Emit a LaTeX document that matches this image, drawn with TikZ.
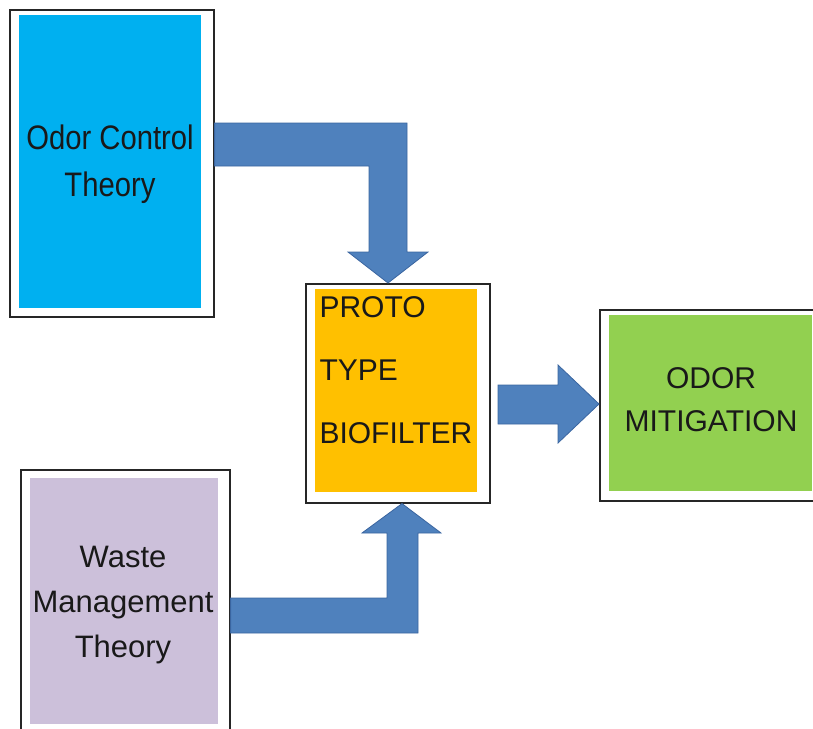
\documentclass[tikz,border=0pt]{standalone}
\usepackage{fontspec}
\setmainfont{Liberation Sans}
\newfontfamily\narrowfont[FakeStretch=0.86]{Liberation Sans}
\definecolor{cblue}{HTML}{00B0F0}
\definecolor{corange}{HTML}{FFC000}
\definecolor{cgreen}{HTML}{92D050}
\definecolor{clilac}{HTML}{CCC0DA}
\definecolor{carrow}{HTML}{4F81BD}
\definecolor{carrowdark}{HTML}{3A65A0}
\tikzset{
  frame/.style={draw=black!85, line width=1.6pt, fill=white, inner sep=0pt, anchor=north west},
  panel/.style={inner sep=0pt, anchor=north west},
  label/.style={align=center, font=\fontsize{30}{45}\selectfont, text=black!90},
  blockarrow/.style={fill=carrow, draw=carrowdark, line width=0.8pt, line join=miter},
}
\begin{document}
\begin{tikzpicture}[x=1pt,y=-1pt]
\useasboundingbox (0,0) rectangle (813,728);
% Odor Control Theory
\node[frame, minimum width=204pt, minimum height=307pt] (ocf) at (9,9) {};
\node[panel, fill=cblue, minimum width=182pt, minimum height=293pt] (ocp) at (19,15) {};
\node[label, font=\narrowfont\fontsize{34}{47}\selectfont] (oct) at (110,164) {Odor Control\\Theory};
% Prototype biofilter
\node[frame, minimum width=184pt, minimum height=219pt] (pbf) at (305,283) {};
\node[panel, fill=corange, minimum width=162pt, minimum height=203pt] (pbp) at (315,289) {};
\node[label, anchor=west, align=left, font=\fontsize{30}{63}\selectfont] (pbt) at (316,370) {PROTO\\TYPE\\BIOFILTER};
% Odor mitigation
\node[frame, minimum width=220pt, minimum height=191pt] (omf) at (599,309) {};
\node[panel, fill=cgreen, minimum width=203pt, minimum height=176pt] (omp) at (609,315) {};
\node[label, font=\fontsize{30}{43}\selectfont] (omt) at (711,400) {ODOR\\MITIGATION};
% Waste Management Theory
\node[frame, minimum width=209pt, minimum height=270pt] (wmf) at (20,469) {};
\node[panel, fill=clilac, minimum width=188pt, minimum height=246pt] (wmp) at (30,478) {};
\node[label, font=\fontsize{31}{45}\selectfont] (wmt) at (123,605) {Waste\\Management\\Theory};
% Arrow from Odor Control Theory to biofilter
\draw[blockarrow] (ocf.east |- 0,123) -- (407,123) -- (407,252) -- (428,252)
  -- (pbf.north -| 388,0) -- (348,252) -- (369,252) -- (369,166) -- (ocf.east |- 0,166) -- cycle;
% Arrow from Waste Management Theory to biofilter
\draw[blockarrow] (wmf.east |- 0,633) -- (418,633) -- (418,533) -- (441,533)
  -- (pbf.south -| 402,0) -- (362,533) -- (387,533) -- (387,598) -- (wmf.east |- 0,598) -- cycle;
% Arrow from biofilter to odor mitigation
\draw[blockarrow] (498,385) -- (558,385) -- (558,365) -- (omf.west |- 0,404)
  -- (558,443) -- (558,424) -- (498,424) -- cycle;
\end{tikzpicture}
\end{document}
